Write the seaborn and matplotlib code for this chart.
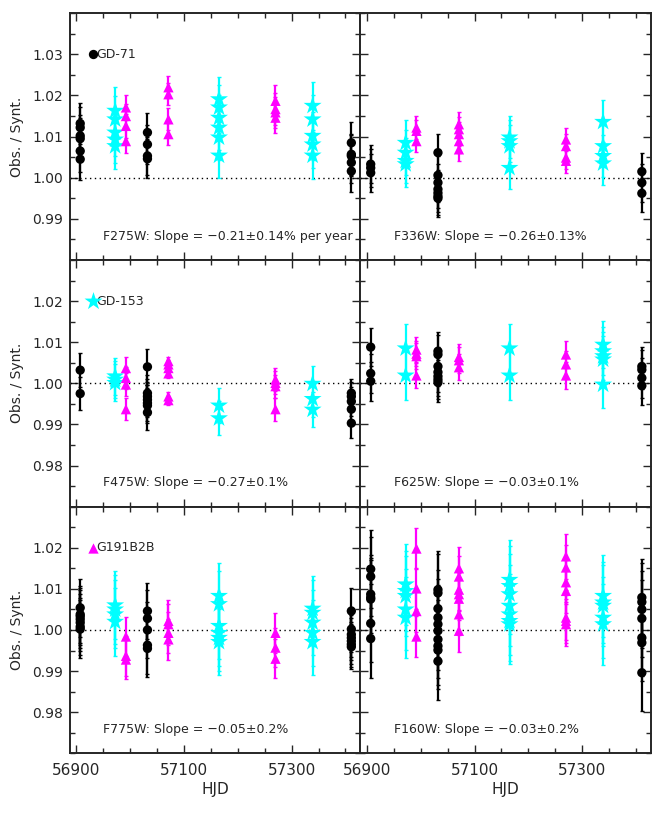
import pandas as pd
import matplotlib
matplotlib.use("Agg")
import matplotlib.pyplot as plt
from matplotlib.ticker import FixedLocator, MultipleLocator, FormatStrFormatter
import seaborn as sns

# epochs (HJD - 2400000) and the standard star observed at each one
hjd = [56907, 56972, 56992, 57032, 57071, 57165, 57270, 57339, 57411]
stars = ["GD-71", "GD-153", "G191B2B", "GD-71", "G191B2B",
         "GD-153", "G191B2B", "GD-153", "GD-71"]

# Obs./Synt. ratios per epoch, and one error per epoch
f275w = [[1.0132, 1.0122, 1.0102, 1.0095, 1.0065, 1.0045],
         [1.0163, 1.0142, 1.0110, 1.0093, 1.0077],
         [1.0171, 1.0150, 1.0126, 1.0089],
         [1.0110, 1.0081, 1.0053, 1.0046],
         [1.0220, 1.0203, 1.0142, 1.0106],
         [1.0191, 1.0171, 1.0146, 1.0122, 1.0098, 1.0054],
         [1.0187, 1.0167, 1.0159, 1.0146],
         [1.0175, 1.0142, 1.0102, 1.0081, 1.0054],
         [1.0085, 1.0057, 1.0053, 1.0037, 1.0016]]
f275w_err = [0.005, 0.0057, 0.003, 0.0047, 0.0027, 0.0055, 0.0038, 0.0058, 0.005]

f336w = [[1.0033, 1.0024, 1.0012],
         [1.0085, 1.0061, 1.0041, 1.0033],
         [1.0122, 1.0114, 1.0089],
         [1.0061, 1.0006, 0.9988, 0.9972, 0.9963, 0.9955, 0.9950],
         [1.0130, 1.0118, 1.0106, 1.0089, 1.0069],
         [1.0098, 1.0089, 1.0077, 1.0024],
         [1.0093, 1.0077, 1.0049, 1.0041],
         [1.0136, 1.0077, 1.0053, 1.0035],
         [1.0015, 0.9988, 0.9962]]
f336w_err = [0.0046, 0.0055, 0.0027, 0.0046, 0.0029, 0.0051, 0.0029, 0.0052, 0.0046]

f475w = [[1.0032, 0.9975],
         [1.0017, 1.0009, 1.0001],
         [1.0037, 1.0013, 0.9997, 0.9937],
         [1.0040, 0.9976, 0.9968, 0.9960, 0.9952, 0.9946, 0.9929],
         [1.0054, 1.0046, 1.0037, 1.0024, 0.9968, 0.9959],
         [0.9946, 0.9915],
         [1.0009, 1.0001, 0.9993, 0.9937],
         [0.9999, 0.9962, 0.9936],
         [0.9976, 0.9968, 0.9956, 0.9937, 0.9903]]
f475w_err = [0.0041, 0.0045, 0.0027, 0.0043, 0.0011, 0.0042, 0.0028, 0.0043, 0.0035]

f625w = [[1.0088, 1.0024, 1.0005],
         [1.0085, 1.0019],
         [1.0082, 1.0072, 1.0066, 1.0019],
         [1.0078, 1.0070, 1.0041, 1.0027, 1.0017, 1.0009, 1.0002],
         [1.0064, 1.0056, 1.0039],
         [1.0085, 1.0019],
         [1.0070, 1.0046, 1.0019],
         [1.0094, 1.0078, 1.0066, 1.0058, 0.9997],
         [1.0041, 1.0033, 1.0013, 0.9994]]
f625w_err = [0.0047, 0.006, 0.0031, 0.0047, 0.0032, 0.006, 0.0033, 0.0058, 0.0048]

f775w = [[1.0054, 1.0038, 1.0033, 1.0026, 1.0018, 1.0008, 1.0002],
         [1.0060, 1.0050, 1.0038, 1.0020],
         [0.9984, 0.9937, 0.9928],
         [1.0046, 1.0028, 1.0000, 0.9963, 0.9955],
         [1.0022, 1.0014, 0.9993, 0.9977],
         [1.0083, 1.0063, 1.0010, 0.9993, 0.9981, 0.9971],
         [0.9993, 0.9957, 0.9930],
         [1.0052, 1.0042, 1.0018, 0.9993, 0.9971],
         [1.0046, 1.0002, 0.9989, 0.9981, 0.9973, 0.9965, 0.9959]]
f775w_err = [0.007, 0.0083, 0.0048, 0.0069, 0.005, 0.008, 0.0048, 0.008, 0.0055]

f160w = [[1.0148, 1.0130, 1.0087, 1.0079, 1.0075, 1.0016, 0.9979],
         [1.0111, 1.0095, 1.0083, 1.0050, 1.0030],
         [1.0198, 1.0101, 1.0046, 0.9984],
         [1.0098, 1.0090, 1.0052, 1.0030, 1.0014, 0.9998, 0.9977, 0.9961, 0.9951, 0.9924],
         [1.0150, 1.0130, 1.0098, 1.0087, 1.0076, 1.0038, 0.9998],
         [1.0122, 1.0107, 1.0087, 1.0059, 1.0038, 1.0022, 1.0014],
         [1.0179, 1.0152, 1.0116, 1.0095, 1.0030, 1.0022, 1.0014],
         [1.0083, 1.0067, 1.0059, 1.0030, 1.0014],
         [1.0079, 1.0068, 1.0050, 1.0028, 0.9981, 0.9969, 0.9896]]
f160w_err = [0.0095, 0.0098, 0.005, 0.0095, 0.0051, 0.0098, 0.0054, 0.0099, 0.0094]

filters = ["F275W", "F336W", "F475W", "F625W", "F775W", "F160W"]
slopes = ["\u22120.21\u00b10.14% per year", "\u22120.26\u00b10.13%",
          "\u22120.27\u00b10.1%", "\u22120.03\u00b10.1%",
          "\u22120.05\u00b10.2%", "\u22120.03\u00b10.2%"]
ratios = [f275w, f336w, f475w, f625w, f775w, f160w]
errors = [f275w_err, f336w_err, f475w_err, f625w_err, f775w_err, f160w_err]

# long table
rows = []
for filt, vals, errs in zip(filters, ratios, errors):
    for t, star, pts, e in zip(hjd, stars, vals, errs):
        for v in pts:
            rows.append({"filter": filt, "hjd": t, "star": star, "ratio": v, "err": e})
df = pd.DataFrame(rows)

palette = {"GD-71": "black", "GD-153": "#00ffff", "G191B2B": "#ff00ff"}
markers = {"GD-71": "o", "GD-153": "*", "G191B2B": "^"}
sizes = {"GD-71": 45, "GD-153": 185, "G191B2B": 55}

sns.set_style("ticks")
plt.rcParams["font.family"] = ["DejaVu Sans"]

fig, axes = plt.subplots(3, 2, figsize=(6.64, 8.24), dpi=100, sharex=True, sharey="row")
fig.subplots_adjust(left=0.1054, right=0.9804, top=0.9839, bottom=0.0858, wspace=0, hspace=0)

ylims = [(0.98, 1.04), (0.97, 1.03), (0.97, 1.03)]
yticks = [[0.99, 1.00, 1.01, 1.02, 1.03], [0.98, 0.99, 1.00, 1.01, 1.02], [0.98, 0.99, 1.00, 1.01, 1.02]]
legend_star = ["GD-71", "GD-153", "G191B2B"]

for i, (filt, slope) in enumerate(zip(filters, slopes)):
    r, c = divmod(i, 2)
    ax = axes[r, c]
    sub = df[df["filter"] == filt]
    ax.axhline(1.0, color="black", ls=(0, (1, 2.5)), lw=1, zorder=1)
    for star in ["GD-71", "GD-153", "G191B2B"]:
        s = sub[sub["star"] == star]
        ax.errorbar(s["hjd"], s["ratio"], yerr=s["err"], fmt="none",
                    ecolor=palette[star], elinewidth=1.6, capsize=1.6, capthick=1, zorder=2)
    sns.scatterplot(data=sub, x="hjd", y="ratio", hue="star", style="star", size="star",
                    palette=palette, markers=markers, sizes=sizes, linewidth=0,
                    legend=False, ax=ax, zorder=3)
    ax.text(0.114, 0.096, f"{filt}: Slope = {slope}", transform=ax.transAxes,
            fontsize=9, va="center", ha="left")

    ax.set_xlim(56888, 57428)
    ax.set_ylim(*ylims[r])
    ax.xaxis.set_major_locator(FixedLocator([56900, 57100, 57300]))
    ax.xaxis.set_minor_locator(MultipleLocator(50))
    ax.yaxis.set_major_locator(FixedLocator(yticks[r]))
    ax.yaxis.set_minor_locator(MultipleLocator(0.005))
    ax.yaxis.set_major_formatter(FormatStrFormatter("%.2f"))
    ax.tick_params(which="both", direction="in", top=True, right=True, width=1)
    ax.tick_params(which="major", length=6)
    ax.tick_params(which="minor", length=3.5)
    ax.tick_params(axis="y", labelsize=10, pad=5)
    ax.tick_params(axis="x", labelsize=11, pad=7)
    for sp in ax.spines.values():
        sp.set_linewidth(1.4)

    if c == 0:
        ax.set_ylabel("Obs. / Synt.", fontsize=10, labelpad=6)
        star = legend_star[r]
        ax.scatter([0.078], [0.833], transform=ax.transAxes, marker=markers[star],
                   s=sizes[star], color=palette[star], linewidths=0, zorder=4)
        ax.text(0.092, 0.833, star, transform=ax.transAxes, fontsize=9, va="center", ha="left")
    else:
        ax.set_ylabel("")
    if r == 2:
        ax.set_xlabel("HJD", fontsize=11, labelpad=3)
    else:
        ax.set_xlabel("")

plt.savefig("out.png", dpi=100)
